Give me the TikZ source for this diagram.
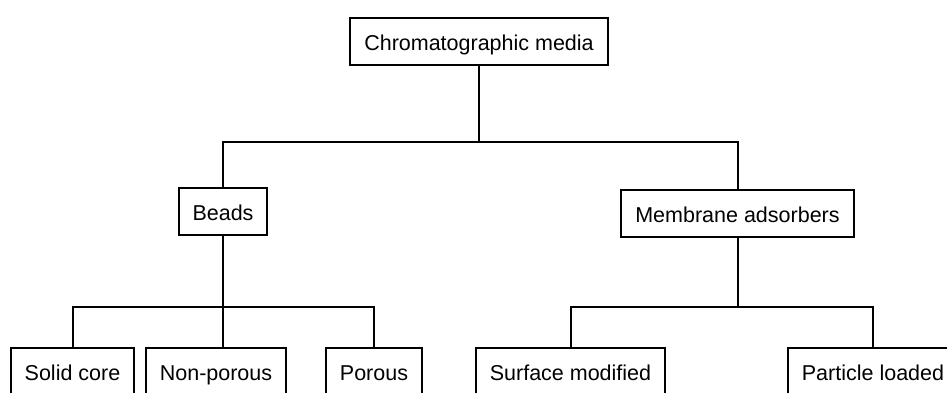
\documentclass[tikz,border=0pt]{standalone}
\usepackage{fontspec}
\setmainfont{Liberation Sans}
\usepackage{tikz}
\usetikzlibrary{positioning}

\begin{document}
\begin{tikzpicture}
	[x=1pt,y=1pt,line width=2pt,every node/.style={draw, line width=2pt, align=center, inner xsep=14pt, minimum height=47pt, text height=19pt, text depth=2pt, font=\fontsize{21.5}{25}\selectfont}]
	\clip (0,0) rectangle (947,-392);
	\useasboundingbox (0,0) rectangle (947,-392);
	\node (media) at (479,-41.5) {Chromatographic media};\node (beads) at (223,-211.5) {Beads};\node (membrane) at (737.5,-213.5) {Membrane adsorbers};\node (solid) at (72.5,-371.5) {Solid core};\node (nonporous) at (216,-371.5) {Non-porous};\node (porous) at (374,-371.5) {Porous};\node (surface) at (570.5,-371.5) {Surface modified};\node (particle) at (873,-371.5) {Particle loaded};
	\coordinate (busA) at (0,-142);
	\coordinate (busB) at (0,-307);
	
	\draw (media.south) -- (media.south |- busA);
	\draw (beads.north) |- (membrane.north |- busA) -- (membrane.north);
	\draw (beads.south) -- (beads.south |- nonporous.north);
	\draw (solid.north) |- (porous.north |- busB) -- (porous.north);
	\draw (membrane.south) -- (membrane.south |- busB);
	\draw (surface.north) |- (particle.north |- busB) -- (particle.north);
\end{tikzpicture}
\end{document}
